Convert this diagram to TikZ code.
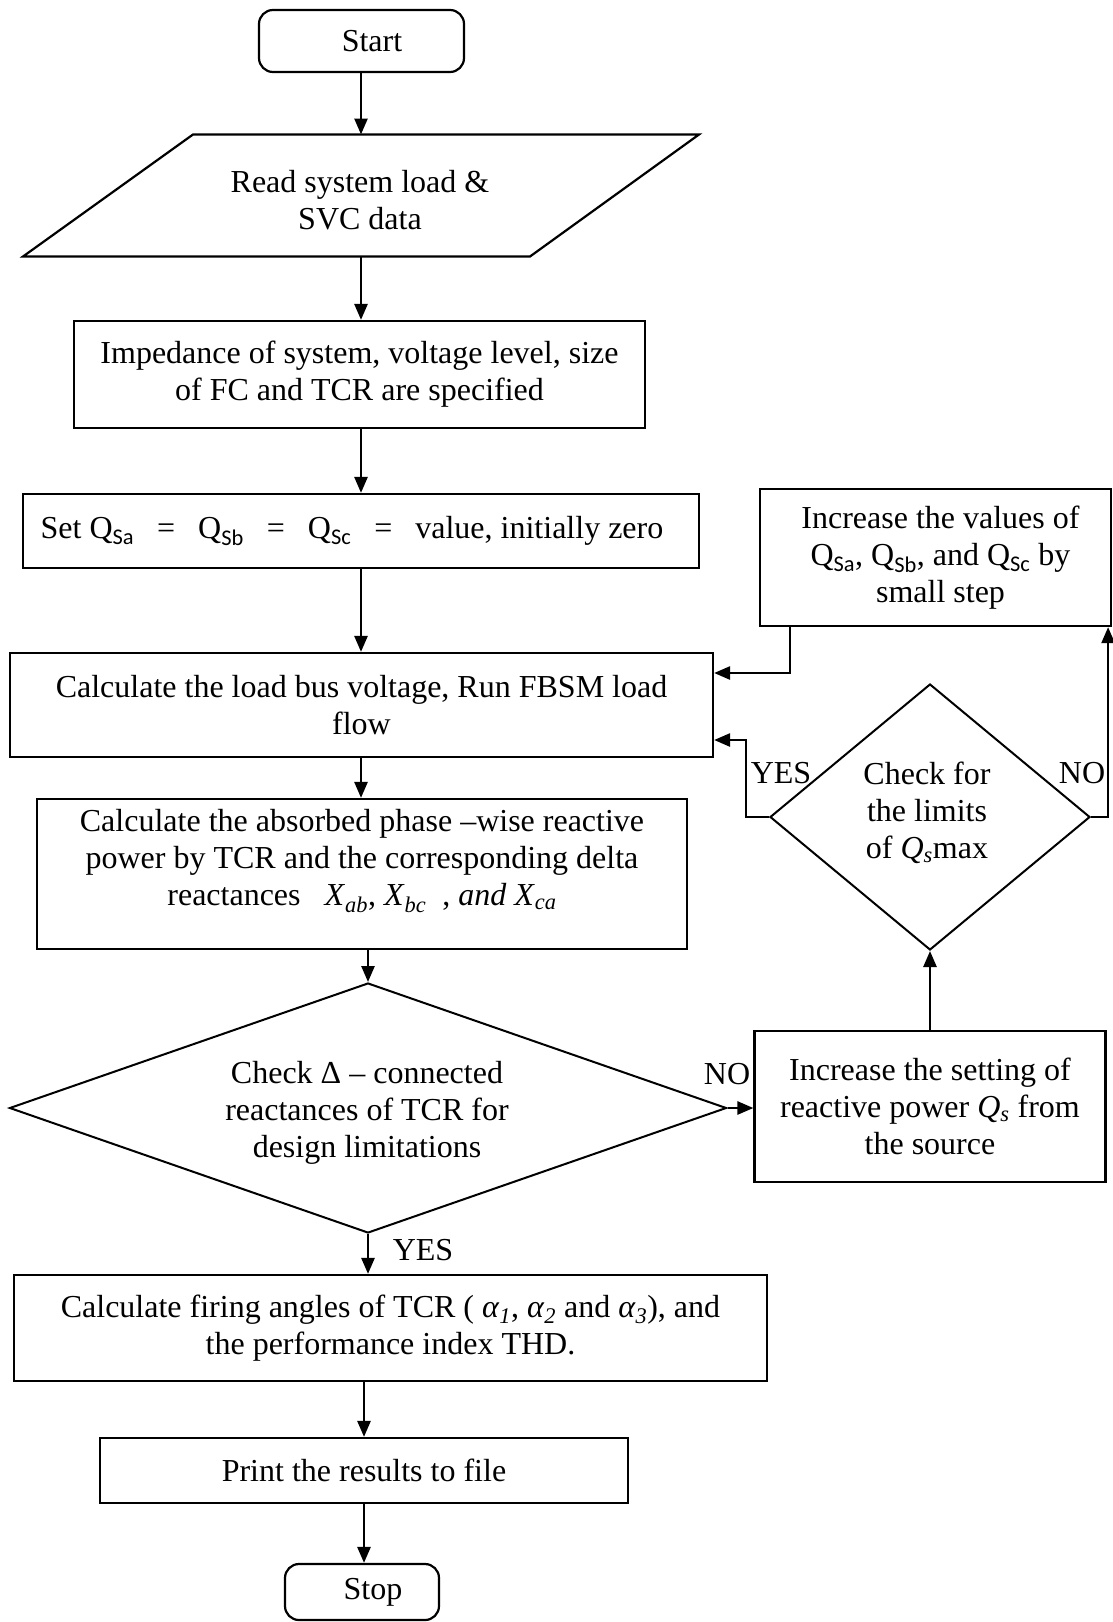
\documentclass[tikz,border=0pt]{standalone}
\usepackage{fontspec}
\setmainfont{Liberation Serif}
\setsansfont{Carlito}
\usetikzlibrary{shapes.geometric,arrows.meta}
% italic variable with italic subscript, and Q with an upright sans subscript
\newcommand{\iv}[2]{\textit{#1}\textsubscript{\textit{#2}}}
\newcommand{\qs}[1]{Q\textsubscript{\sffamily #1}}
\newcommand{\eqsp}{\hspace{23pt}=\hspace{23pt}}
\begin{document}
\begin{tikzpicture}[x=1pt,y=-1pt,
  txt/.style={inner sep=0pt,align=center,font=\fontsize{32}{37}\selectfont},
  box/.style={txt,draw,line width=2.2pt},
  term/.style={box,rounded corners=14pt},
  dec/.style={draw,diamond,line width=2pt,inner sep=0pt,aspect=1},
  arr/.style={line width=2.6pt,-{Triangle[length=16pt,width=13pt]}},
  ln/.style={line width=2.2pt,line join=miter}]
\useasboundingbox (0,0) rectangle (1112,1622);
\coordinate (col) at (361,0);

% main column
\node[term,minimum width=205pt,minimum height=62pt] (start) at (361.5,41) {\hspace*{21pt}Start};

\draw[ln] (193,134.5) -- (699,134.5) -- (530,256.5) -- (23,256.5) -- cycle;
\node[txt] (read) at (360,200) {Read system load \&\\SVC data};
\coordinate (readtop) at (361,134.5);
\coordinate (readbot) at (361,256.5);

\node[box,minimum width=571pt,minimum height=107pt] (imp) at (359.5,374.5)
  {Impedance of system, voltage level, size\\of FC and TCR are specified};
\node[box,minimum width=676pt,minimum height=74pt] (setq) at (361,531)
  {Set \qs{Sa}\eqsp\qs{Sb}\eqsp\qs{Sc}\eqsp value, initially zero\hspace*{18pt}};
\node[box,minimum width=703pt,minimum height=104pt] (load) at (361.5,705)
  {Calculate the load bus voltage, Run FBSM load\\flow};
\node[box,minimum width=650pt,minimum height=150pt] (absb) at (362,874)
  {Calculate the absorbed phase --wise reactive\\power by TCR and the corresponding delta\\reactances \ \ \iv{X}{ab}, \iv{X}{bc} \ , \textit{and} \iv{X}{ca}\\[-4pt]};

\node[dec,minimum width=717pt,minimum height=250pt] (chkd) at (368,1108) {};
\node[txt] (chkdt) at (367,1113) {Check Δ -- connected\\reactances of TCR for\\design limitations};

\node[box,minimum width=753pt,minimum height=106pt] (fire) at (390.5,1328)
  {Calculate firing angles of TCR ( \iv{α}{1}, \iv{α}{2} and \iv{α}{3}), and\\the performance index THD.};
\node[box,minimum width=528pt,minimum height=65pt] (print) at (364,1470.5) {Print the results to file};
\node[term,minimum width=154pt,minimum height=56pt] (stop) at (362,1592) {\hspace*{22pt}Stop};

% right-hand loop
\node[box,minimum width=351pt,minimum height=151pt] (incs) at (930,1106.5)
  {Increase the setting of\\reactive power \iv{Q}{s} from\\the source};
\node[dec,minimum width=320pt,minimum height=266pt] (chk) at (930,817) {};
\node[txt] (chkt) at (927,813) {Check for\\the limits\\of \iv{Q}{s}max};
\node[box,minimum width=351pt,minimum height=137pt] (incv) at (935.5,557.5)
  {\hspace*{10pt}Increase the values of\\\hspace*{10pt}\qs{Sa}, \qs{Sb}, and \qs{Sc} by\\\hspace*{10pt}small step};

% connectors
\draw[arr] (start.south -| col) -- (readtop);
\draw[arr] (readbot) -- (imp.north -| col);
\draw[arr] (imp.south -| col) -- (setq.north -| col);
\draw[arr] (setq.south -| col) -- (load.north -| col);
\draw[arr] (load.south -| col) -- (absb.north -| col);
\draw[arr] (absb.south -| chkd.north) -- (chkd.north);
\draw[arr] (chkd.south) -- (chkd.south |- fire.north);
\draw[arr] (fire.south -| print.north) -- (print.north);
\draw[arr] (print.south) -- (print.south |- stop.north);

\draw[arr] (chkd.east) -- (chkd.east -| incs.west);
\draw[arr] (incs.north) -- (chk.south);
\coordinate (yesy) at (0,740);
\coordinate (loopy) at (0,673);
\draw[arr] (chk.west) -- ++(-23,0) |- (load.east |- yesy);
\draw[arr] ([xshift=31pt]incv.south west) |- (load.east |- loopy);
\draw[arr] (chk.east) -| ([xshift=-4pt]incv.south east);

% branch labels
\node[txt] (yes1) at (781,773) {YES};
\node[txt] (no1) at (1082,773) {NO};
\node[txt] (no2) at (727,1074) {NO};
\node[txt] (yes2) at (423,1250) {YES};
\end{tikzpicture}
\end{document}
